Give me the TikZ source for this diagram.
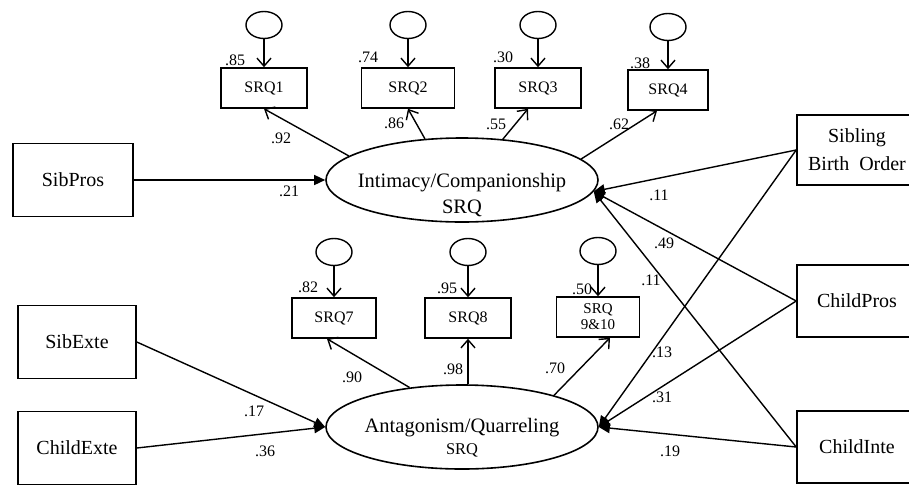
\documentclass[tikz,border=0pt]{standalone}
\usepackage{fontspec}
\setmainfont{Liberation Serif}
\usetikzlibrary{arrows.meta,positioning,calc,shapes.geometric}

\begin{document}
\begin{tikzpicture}[x=1pt,y=-1pt,line width=1.4pt,
  obs/.style={draw,line width=1.6pt,minimum width=86pt,minimum height=40pt,inner sep=0pt,font=\fontsize{16}{16}\selectfont},
  exo/.style={draw,line width=1.6pt,minimum width=120pt,minimum height=73pt,inner sep=0pt,align=center,font=\fontsize{20}{28}\selectfont},
  lat/.style={draw,ellipse,line width=1.6pt,minimum width=272pt,minimum height=84pt,inner sep=0pt},
  err/.style={draw,ellipse,minimum width=36pt,minimum height=27pt,inner sep=0pt},
  ttl/.style={anchor=base,inner sep=0pt,font=\fontsize{20.5}{24}\selectfont},
  lbl/.style={inner sep=0pt,font=\fontsize{16}{16}\selectfont},
  load/.style={-{Straight Barb[length=8pt,width=14pt]}},
  eff/.style={-{Triangle[length=11pt,width=10pt]}}]
\useasboundingbox (0,0) rectangle (909,485);
% latent factors
\node[lat] (ic) at (462,180) {};
\node[ttl] (ictitle) at (462,187) {Intimacy/Companionship};
\node[ttl] (icsub) at (462,213) {SRQ};
\node[lat] (aq) at (462,427) {};
\node[ttl] (aqtitle) at (462,432) {Antagonism/Quarreling};
\node[ttl,font=\fontsize{16.4}{18}\selectfont] (aqsub) at (462,454) {SRQ};
% indicators
\node[obs] (srq1) at (264,88) {SRQ1};
\node[obs,minimum width=93pt] (srq2) at (408,88) {SRQ2};
\node[obs] (srq3) at (538,88) {SRQ3};
\node[obs,minimum width=80pt] (srq4) at (668,90) {SRQ4};
\node[obs,minimum width=84pt] (srq7) at (334,318) {SRQ7};
\node[obs] (srq8) at (468,318) {SRQ8};
\node[obs,minimum width=83pt,align=center,font=\fontsize{15}{16}\selectfont] (srq9) at (598,317) {SRQ\\9\&10};
\foreach \v in {1,2,3,4} {
  \node[err,above=28pt of srq\v] (e\v) {};
  \draw[load] (e\v) -- (srq\v);
}
\foreach \v in {7,8,9} {
  \node[err,above=31pt of srq\v] (e\v) {};
  \draw[load] (e\v) -- (srq\v);
}
% predictors
\node[exo] (sibpros) at (73,180) {SibPros};
\node[exo,minimum width=118pt] (sibexte) at (77,342) {SibExte};
\node[exo,minimum width=118pt] (childexte) at (77,448) {ChildExte};
\node[exo,minimum height=70pt] (sibord) at (857,150) {Sibling\\Birth\ \ Order};
\node[exo,minimum height=72pt] (childpros) at (857,301) {ChildPros};
\node[exo,minimum height=72pt] (childinte) at (857,447) {ChildInte};
% loadings
\draw[load] (ic.168) -- (srq1.south);
\draw[load] (ic.132) -- (srq2.south);
\draw[load] (ic.45) -- ([xshift=-10pt]srq3.south);
\draw[load] (ic.10) -- ([xshift=-11pt]srq4.south);
\draw[load] (aq.143) -- ([xshift=-7pt]srq7.south);
\draw[load] (srq8.south |- aq.north) -- (srq8.south);
\draw[load] (aq.19) -- ([xshift=12pt]srq9.south);
% structural paths
\coordinate (icin) at (ic.-5);
\draw[eff] (sibpros) -- (ic);
\draw[eff] (sibexte.east) -- (aq.west);
\draw[eff] (childexte.east) -- (aq.west);
\draw[eff] (sibord.west) -- (icin);
\draw[eff] (childpros.west) -- (icin);
\draw[eff] (childinte.west) -- (icin);
\draw[eff] (sibord.west) -- (aq.east);
\draw[eff] (childpros.west) -- (aq.east);
\draw[eff] (childinte.west) -- (aq.east);
% error variances
\node[lbl] (r1) at (235,60) {.85};
\node[lbl] (r2) at (368,57) {.74};
\node[lbl] (r3) at (503,57) {.30};
\node[lbl] (r4) at (640,63) {.38};
\node[lbl] (r7) at (308,287) {.82};
\node[lbl] (r8) at (447,288) {.95};
\node[lbl] (r9) at (582,289) {.50};
% coefficients
\node[lbl] (c1) at (281,138) {.92};
\node[lbl] (c2) at (394,123) {.86};
\node[lbl] (c3) at (496,124) {.55};
\node[lbl] (c4) at (619,124) {.62};
\node[lbl] (c7) at (352,377) {.90};
\node[lbl] (c8) at (453,369) {.98};
\node[lbl] (c9) at (555,368) {.70};
\node[lbl] (p1) at (289,191) {.21};
\node[lbl] (p2) at (254,411) {.17};
\node[lbl] (p3) at (265,451) {.36};
\node[lbl] (p4) at (659,195) {.11};
\node[lbl] (p5) at (664,243) {.49};
\node[lbl] (p6) at (651,280) {.11};
\node[lbl] (p7) at (662,352) {.13};
\node[lbl] (p8) at (662,397) {.31};
\node[lbl] (p9) at (670,451) {.19};
\end{tikzpicture}
\end{document}
